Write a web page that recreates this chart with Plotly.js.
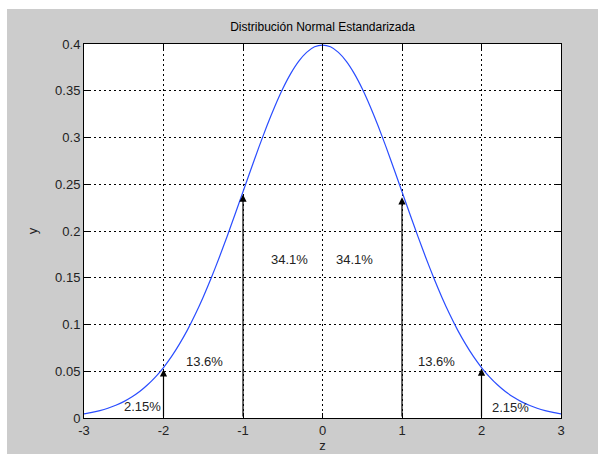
<!DOCTYPE html>
<html>
<head>
<meta charset="utf-8">
<script src="https://cdn.plot.ly/plotly-3.0.1.min.js"></script>
<style>
  html, body { margin: 0; padding: 0; background: #ffffff; }
  #chart { position: absolute; left: 7px; top: 9px; width: 591px; height: 445px; }
</style>
</head>
<body>
<div id="chart"></div>
<script>
// Curve samples
const zValues = [-3.0,-2.9,-2.8,-2.7,-2.6,-2.5,-2.4,-2.3,-2.2,-2.1,-2.0,-1.9,-1.8,-1.7,-1.6,-1.5,-1.4,-1.3,-1.2,-1.1,-1.0,
  -0.9,-0.8,-0.7,-0.6,-0.5,-0.4,-0.3,-0.2,-0.1,0.0,0.1,0.2,0.3,0.4,0.5,0.6,0.7,0.8,0.9,1.0,
  1.1,1.2,1.3,1.4,1.5,1.6,1.7,1.8,1.9,2.0,2.1,2.2,2.3,2.4,2.5,2.6,2.7,2.8,2.9,3.0];
const yValues = [0.0044,0.0060,0.0079,0.0104,0.0136,0.0175,0.0224,0.0283,0.0355,0.0440,0.0540,0.0656,0.0790,0.0940,0.1109,0.1295,0.1497,0.1714,0.1942,0.2179,0.2420,
  0.2661,0.2897,0.3123,0.3332,0.3521,0.3683,0.3814,0.3910,0.3970,0.3989,0.3970,0.3910,0.3814,0.3683,0.3521,0.3332,0.3123,0.2897,0.2661,0.2420,
  0.2179,0.1942,0.1714,0.1497,0.1295,0.1109,0.0940,0.0790,0.0656,0.0540,0.0440,0.0355,0.0283,0.0224,0.0175,0.0136,0.0104,0.0079,0.0060,0.0044];

// Arrows from the axis up to the curve
const arrowZ = [-2, -1, 1, 2];
const arrowTipY = [0.052, 0.239, 0.236, 0.053];

// Percentage labels
const labelText = ["2.15%", "13.6%", "34.1%", "34.1%", "13.6%", "2.15%"];
const labelZ = [-2.27, -1.48, -0.42, 0.40, 1.44, 2.36];
const labelY = [0.012, 0.060, 0.170, 0.170, 0.060, 0.011];

// Ticks
const xTickVals = [-3, -2, -1, 0, 1, 2, 3];
const xTickText = ["-3", "-2", "-1", "0", "1", "2", "3"];
const yTickVals = [0, 0.05, 0.1, 0.15, 0.2, 0.25, 0.3, 0.35, 0.4];
const yTickText = ["0", "0.05", "0.1", "0.15", "0.2", "0.25", "0.3", "0.35", "0.4"];

const annotations = [];
arrowZ.forEach((z, i) => {
  annotations.push({
    x: z, y: arrowTipY[i], ax: z, ay: 0,
    xref: 'x', yref: 'y', axref: 'x', ayref: 'y',
    text: '', showarrow: true, arrowhead: 2, arrowsize: 1.2, arrowwidth: 1.2,
    arrowcolor: '#000000', standoff: 0, startstandoff: 0
  });
});
labelText.forEach((t, i) => {
  annotations.push({
    x: labelZ[i], y: labelY[i], xref: 'x', yref: 'y', text: t, showarrow: false,
    font: { family: 'Arial, Liberation Sans, sans-serif', size: 13, color: '#222222' }
  });
});

const axisCommon = {
  showline: true, linecolor: '#000000', linewidth: 1, mirror: 'ticks',
  ticks: 'inside', ticklen: 5, tickcolor: '#000000', tickwidth: 1,
  showgrid: true, gridcolor: '#000000', gridwidth: 1, griddash: '2px,3px',
  zeroline: false, fixedrange: true,
  tickfont: { family: 'Arial, Liberation Sans, sans-serif', size: 13, color: '#222222' }
};

const layout = {
  width: 591, height: 445,
  paper_bgcolor: '#cccccc', plot_bgcolor: '#ffffff',
  margin: { l: 77, r: 37, t: 35, b: 36 },
  showlegend: false,
  title: {
    text: 'Distribución Normal Estandarizada',
    font: { family: 'Arial, Liberation Sans, sans-serif', size: 12, color: '#000000' },
    x: 0.5, xref: 'paper', xanchor: 'center',
    y: 1 - 18 / 445, yref: 'container', yanchor: 'middle'
  },
  xaxis: Object.assign({}, axisCommon, {
    range: [-3, 3], tickmode: 'array', tickvals: xTickVals, ticktext: xTickText,
    title: { text: 'z', standoff: 2, font: { family: 'Arial, Liberation Sans, sans-serif', size: 13, color: '#222222' } }
  }),
  yaxis: Object.assign({}, axisCommon, {
    range: [0, 0.4], tickmode: 'array', tickvals: yTickVals, ticktext: yTickText,
    title: { text: 'y', standoff: 14, font: { family: 'Arial, Liberation Sans, sans-serif', size: 13, color: '#222222' } }
  }),
  annotations: annotations
};

const traces = [{
  x: zValues, y: yValues, type: 'scatter', mode: 'lines',
  line: { color: '#2a4dff', width: 1.2, shape: 'spline', smoothing: 0.6 },
  hoverinfo: 'skip'
}];

Plotly.newPlot('chart', traces, layout, { staticPlot: true, displayModeBar: false });
</script>
</body>
</html>
